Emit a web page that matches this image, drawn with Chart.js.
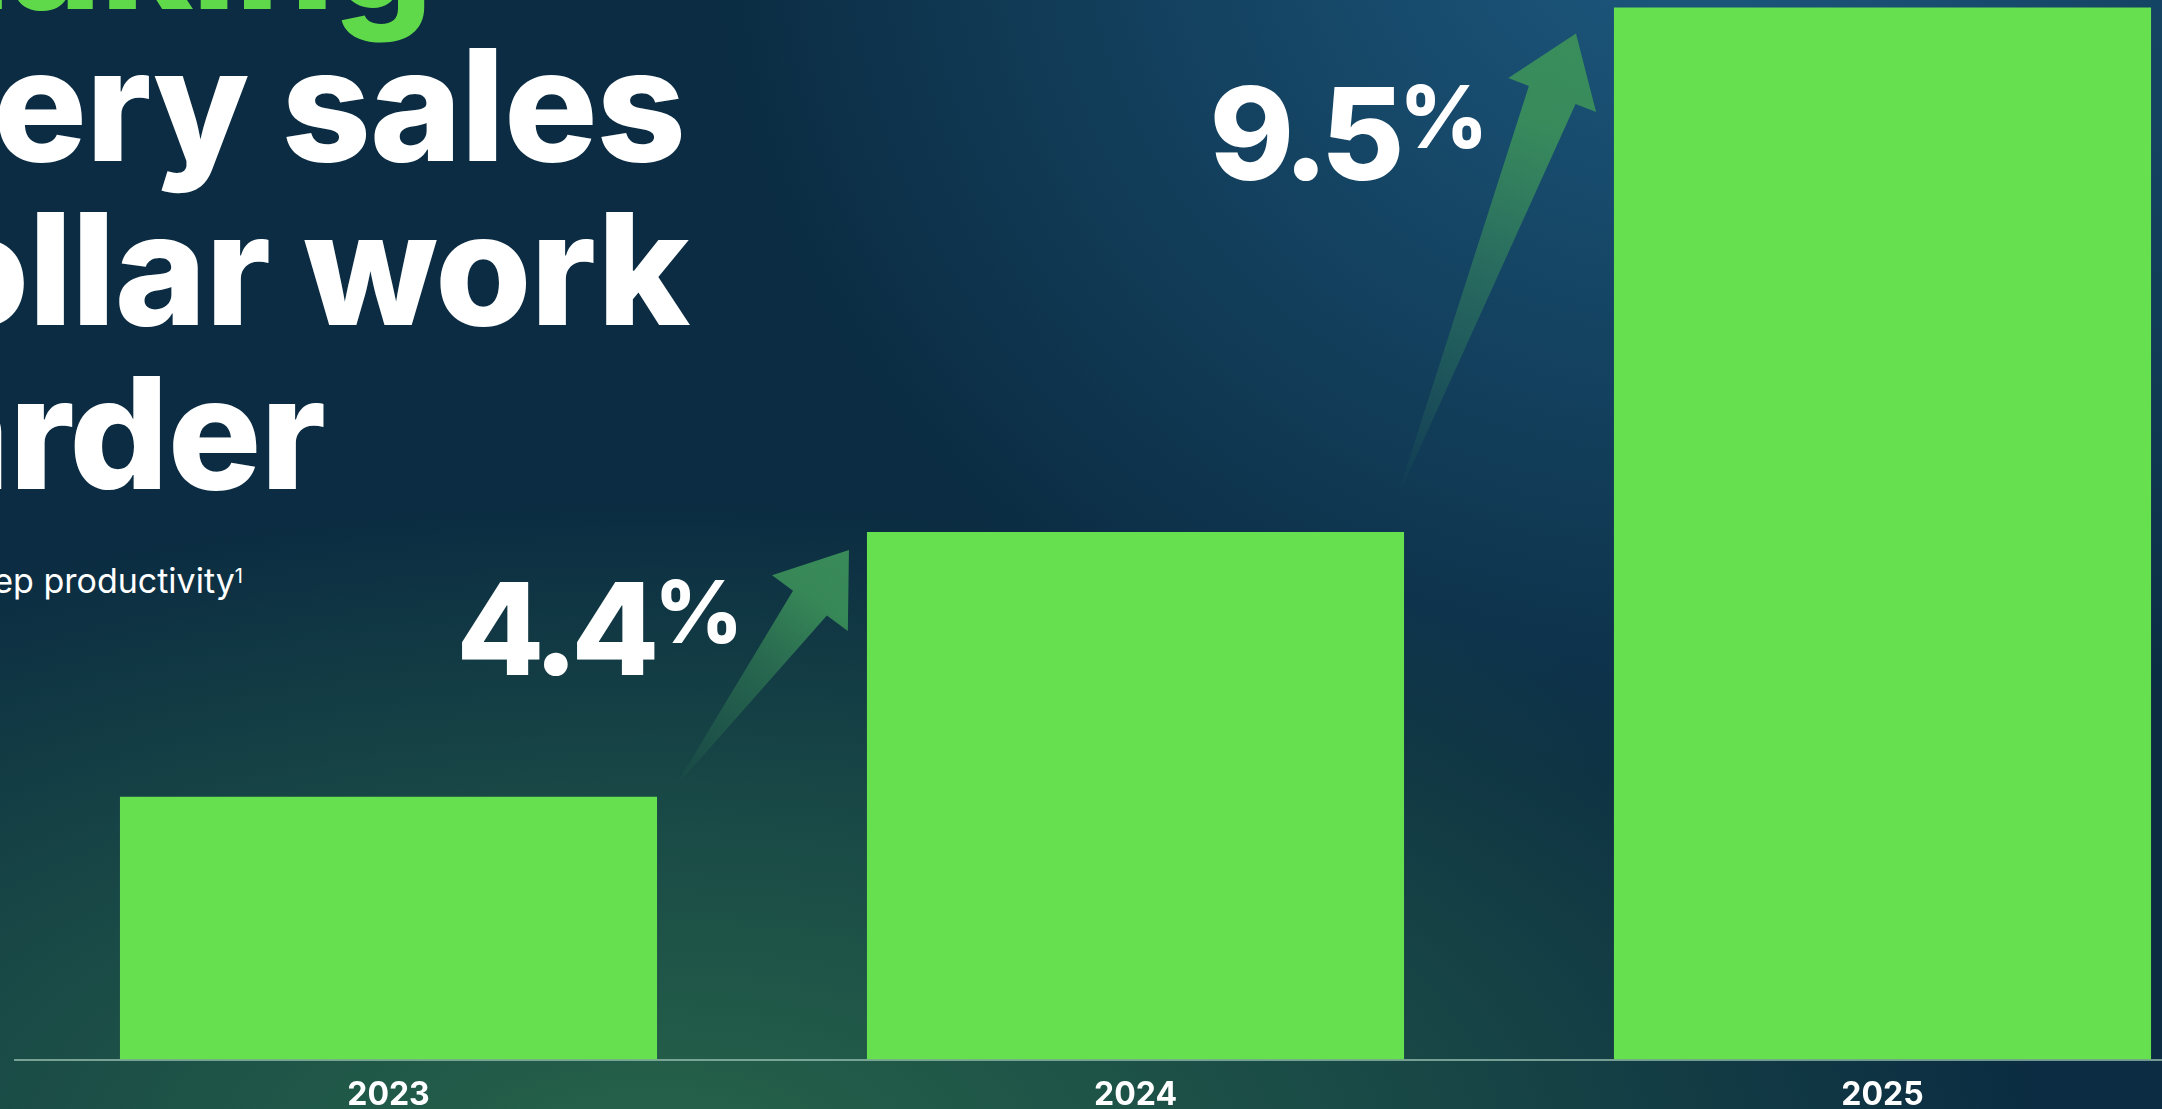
<!DOCTYPE html>
<html>
<head>
<meta charset="utf-8">
<script src="https://cdn.jsdelivr.net/npm/chart.js@4.4.1/dist/chart.umd.min.js"></script>
<style>
  html, body {
    margin: 0;
    padding: 0;
    width: 2162px;
    height: 1109px;
    overflow: hidden;
  }
  body {
    position: relative;
    font-family: Inter, "Noto Sans", sans-serif;
    background-color: #0b2c42;
    background-image:
      radial-gradient(ellipse 1400px 650px at 650px 1150px, rgba(38, 100, 74, 1) 0%, rgba(38, 100, 74, 0.55) 50%, rgba(38, 100, 74, 0) 100%),
      radial-gradient(ellipse 1000px 900px at 1700px -100px, rgba(30, 92, 132, 0.95) 0%, rgba(30, 92, 132, 0) 100%);
  }
  .line {
    position: absolute;
    white-space: nowrap;
    text-align: right;
    font-size: 156px;
    font-weight: 800;
    line-height: 1;
    letter-spacing: -1px;
    color: #ffffff;
  }
  .green { color: #5fd84a; }
  .sub {
    position: absolute;
    white-space: nowrap;
    text-align: right;
    font-size: 34px;
    font-weight: 400;
    line-height: 1;
    color: #ffffff;
  }
  .sub span {
    position: relative;
    top: -0.5em;
    font-size: 20px;
  }
  #wrap {
    position: absolute;
    left: 0;
    top: 0;
    width: 2256px;
    height: 1132px;
  }
</style>
</head>
<body>
<div class="line green" style="right:1730px; top:-125px;">AI is making</div>
<div class="line" style="right:1477px; top:27px;">every sales</div>
<div class="line" style="right:1473px; top:191px;">dollar work</div>
<div class="line" style="right:1837px; top:355px;">harder</div>
<div class="sub" style="right:1919px; top:564px;">sales rep productivity<span>1</span></div>

<div id="wrap"><canvas id="barChart"></canvas></div>

<script>
// data
const years = ["2023", "2024", "2025"];
const barValues = [24.8, 49.8, 99.3];
const growthLabels = ["4.4%", "9.5%"];

// panah + label pertumbuhan di antara bar
function drawArrow(ctx, tail, tip, shaftHalf) {
  const dx = tip.x - tail.x, dy = tip.y - tail.y;
  const len = Math.hypot(dx, dy);
  const ux = dx / len, uy = dy / len;
  const nx = -uy, ny = ux;
  const headLen = 66, headHalf = 47;
  const bx = tip.x - ux * headLen, by = tip.y - uy * headLen;

  const grad = ctx.createLinearGradient(tail.x, tail.y, tip.x, tip.y);
  grad.addColorStop(0, "rgba(60,145,90,0)");
  grad.addColorStop(0.5, "rgba(60,145,90,0.5)");
  grad.addColorStop(0.8, "rgba(60,145,90,0.9)");
  grad.addColorStop(1, "rgba(60,145,90,0.95)");

  ctx.beginPath();
  ctx.moveTo(tail.x, tail.y);
  ctx.lineTo(bx + nx * shaftHalf, by + ny * shaftHalf);
  ctx.lineTo(bx + nx * headHalf, by + ny * headHalf);
  ctx.lineTo(tip.x, tip.y);
  ctx.lineTo(bx - nx * headHalf, by - ny * headHalf);
  ctx.lineTo(bx - nx * shaftHalf, by - ny * shaftHalf);
  ctx.closePath();
  ctx.fillStyle = grad;
  ctx.fill();
}

const growthPlugin = {
  id: "growthArrows",
  afterDatasetsDraw(chart, args, opts) {
    const bars = chart.getDatasetMeta(0).data;
    const ctx = chart.ctx;
    growthLabels.forEach((label, i) => {
      const a = bars[i], b = bars[i + 1];
      const aRight = a.x + a.width / 2;
      const bLeft = b.x - b.width / 2;
      const tail = { x: aRight + opts.tail[i][0], y: a.y + opts.tail[i][1] };
      const tip = { x: bLeft + opts.tip[i][0], y: b.y + opts.tip[i][1] };

      ctx.save();
      drawArrow(ctx, tail, tip, opts.shaft[i]);

      // teks persen
      const num = label.replace("%", "");
      const right = tip.x + opts.label[i][0];
      const base = tip.y + opts.label[i][1];
      ctx.fillStyle = "#ffffff";
      ctx.textBaseline = "alphabetic";
      ctx.textAlign = "right";
      ctx.font = "800 86px Inter";
      const pw = ctx.measureText("%").width;
      ctx.fillText("%", right, base - 32);
      ctx.font = "800 128px Inter";
      ctx.letterSpacing = "-7px";
      ctx.fillText(num, right - pw - 2, base);
      ctx.restore();
    });
  },
};

const ctxBar = document.getElementById("barChart");
new Chart(ctxBar.getContext("2d"), {
  type: "bar",
  data: {
    labels: years,
    datasets: [
      {
        data: barValues,
        backgroundColor: "#66e04f",
        borderWidth: 0,
        barPercentage: 0.719,
        categoryPercentage: 1,
      },
    ],
  },
  options: {
    responsive: true,
    maintainAspectRatio: false,
    animation: false,
    layout: { padding: { left: 15, right: 0, top: 0, bottom: 0 } },
    scales: {
      y: { display: false, min: 0, max: 100 },
      x: {
        grid: { display: false, drawTicks: false },
        border: { display: true, color: "rgba(150,190,175,0.75)", width: 2 },
        ticks: {
          color: "#ffffff",
          padding: 17,
          font: { family: "Inter", size: 32, weight: "700" },
        },
      },
    },
    plugins: {
      legend: { display: false },
      tooltip: { enabled: false },
      growthArrows: {
        tail: [[16, -7], [-9, -29]],
        tip: [[-18, 18], [-38, 26]],
        shaft: [21, 25],
        label: [[-106, 125], [-88, 147]],
      },
    },
  },
  plugins: [growthPlugin],
});
</script>
</body>
</html>
